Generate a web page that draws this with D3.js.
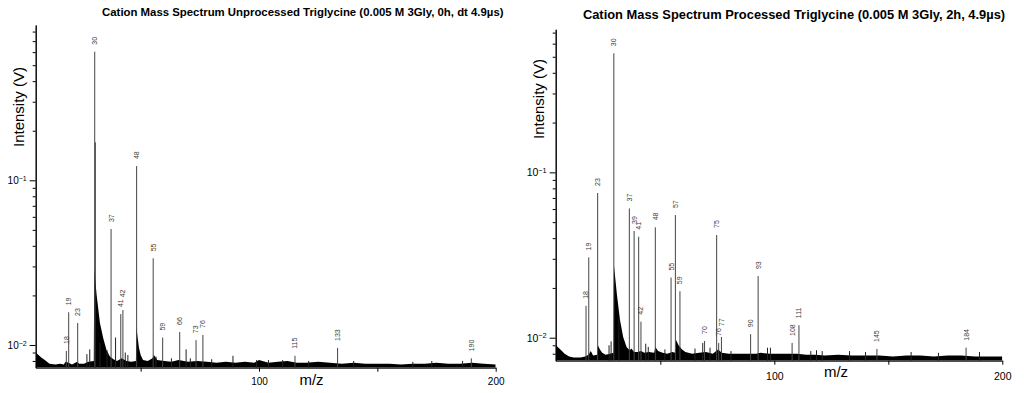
<!DOCTYPE html>
<html>
<head>
<meta charset="utf-8">
<script src="https://cdn.jsdelivr.net/npm/d3@7"></script>
<style>
  body { margin: 0; background: #fff; }
  svg { display: block; font-family: "Liberation Sans", Arial, Helvetica, sans-serif; }
</style>
</head>
<body>
<svg id="chart" width="1024" height="393"></svg>
<script>
// ---- unprocessed (0h) ----
// labelled peaks: position on m/z axis, intensity (V), label text
const unprocPeakMz = [18.6, 19.6, 23.4, 30.6, 37.5, 41.6, 42.5, 48.3, 55.3, 59.3, 66.5, 73.4, 76.3, 115.2, 133.2, 189.7];
const unprocPeakI = [0.0092, 0.0158, 0.0136, 0.604, 0.0506, 0.0154, 0.0163, 0.122, 0.0336, 0.0111, 0.0120, 0.0107, 0.0115, 0.0086, 0.0096, 0.0083];
const unprocLabels = ["18", "19", "23", "30", "37", "41", "42", "48", "55", "59", "66", "73", "76", "115", "133", "190"];
// small unlabelled spikes [m/z, V]
const unprocSpikes = [[27.3, 0.0088], [28.5, 0.0094], [30.8, 0.170], [32.8, 0.0103], [35.8, 0.0093], [39.4, 0.0111],
  [43.5, 0.0090], [44.6, 0.0087], [56.5, 0.0085], [63, 0.0083], [69.2, 0.0094], [71, 0.0083], [80, 0.0082],
  [89, 0.0086], [99, 0.0081], [104, 0.0081], [110, 0.0081], [121, 0.0080], [140, 0.0080], [165, 0.0079], [173, 0.0080], [186, 0.0080]];
// noise floor / peak shoulders (top of the dense black band)
const unprocFloor = [[5.7, 0.0090], [6.5, 0.0088], [8, 0.0084], [9.5, 0.0081], [11.5, 0.0077], [14, 0.0076], [16, 0.0077],
  [17.5, 0.0076], [18.3, 0.0079], [19.5, 0.0078], [21, 0.0076], [23.2, 0.0079], [24, 0.0077], [26, 0.0077], [28, 0.0079],
  [30.2, 0.0080], [30.4, 0.0292], [31.4, 0.0201], [32.8, 0.0136], [34.2, 0.0110], [35.6, 0.0093], [37, 0.0085],
  [38.5, 0.0082], [40, 0.0080], [42, 0.0083], [44, 0.0080], [46, 0.0079], [48.0, 0.0080], [48.2, 0.0130], [48.7, 0.0112],
  [49.3, 0.0096], [50, 0.0087], [51, 0.0081], [53, 0.0080], [55, 0.0083], [55.6, 0.0087], [57, 0.0081], [60, 0.0080],
  [63, 0.0079], [66, 0.0081], [70, 0.0079], [74, 0.0080], [78, 0.0079], [82, 0.0078], [86, 0.0079], [90, 0.0078],
  [94, 0.0079], [98, 0.0078], [100, 0.0081], [104, 0.0078], [108, 0.0079], [112, 0.0080], [116, 0.0078], [120, 0.0078],
  [125, 0.0079], [130, 0.0078], [135, 0.0077], [140, 0.0078], [145, 0.0077], [150, 0.0077], [155, 0.0077], [160, 0.0076],
  [165, 0.0077], [170, 0.0077], [175, 0.0078], [180, 0.0077], [185, 0.0077], [190, 0.0078], [195, 0.0077], [200, 0.0076]];

// ---- processed (2h) ----
const procPeakMz = [17.4, 18.6, 22.5, 29.6, 36.4, 38.5, 40.5, 41.5, 47.8, 54.7, 56.6, 58.6, 69.4, 74.7, 75.6, 76.8, 89.6, 92.9, 107.8, 110.8, 145.0, 184.1];
const procPeakI = [0.0156, 0.0306, 0.075, 0.525, 0.0605, 0.0442, 0.0408, 0.0125, 0.0465, 0.0231, 0.0552, 0.0191, 0.00955, 0.0418, 0.0093, 0.0101, 0.0105, 0.0236, 0.0093, 0.0119, 0.00855, 0.0087];
const procLabels = ["18", "19", "23", "30", "37", "39", "41", "42", "48", "55", "57", "59", "70", "75", "76", "77", "90", "93", "108", "111", "145", "184"];
const procSpikes = [[27.5, 0.0090], [28.4, 0.0095], [31.8, 0.0131], [43.6, 0.0092], [44.7, 0.0088], [52, 0.0085],
  [65.2, 0.0086], [68.6, 0.0093], [71.8, 0.0087], [81, 0.0083], [97, 0.0087], [98.3, 0.0087], [116, 0.0083],
  [118.5, 0.0084], [121, 0.0083], [133, 0.0083], [140, 0.0082], [160, 0.0082], [172, 0.0081], [190, 0.0082]];
const procFloor = [[4.1, 0.0090], [5, 0.0088], [6.5, 0.0084], [8, 0.0080], [10, 0.0077], [12, 0.0076], [15, 0.0076],
  [17, 0.0077], [18.5, 0.0079], [19.5, 0.0083], [20.5, 0.0078], [22.3, 0.0079], [22.6, 0.0090], [23.5, 0.0085],
  [24.5, 0.0081], [26, 0.0079], [28, 0.0080], [29.5, 0.0081], [29.7, 0.0271], [30.9, 0.0185], [32.3, 0.0128],
  [33.7, 0.0101], [35.2, 0.0088], [36.5, 0.0084], [37.3, 0.0086], [38.5, 0.0082], [40, 0.0082], [41.5, 0.0083],
  [43, 0.0081], [45, 0.0082], [47.3, 0.0081], [47.8, 0.0088], [49, 0.0083], [51, 0.0081], [53, 0.0080], [55.2, 0.0082],
  [56.6, 0.0081], [56.9, 0.0097], [58, 0.0090], [59.5, 0.0085], [61, 0.0082], [64, 0.0080], [67, 0.0081], [70, 0.0082],
  [73, 0.0080], [75.3, 0.0085], [77, 0.0081], [80, 0.0080], [84, 0.0080], [88, 0.0080], [92, 0.0080], [94, 0.0081],
  [98, 0.0080], [102, 0.0080], [106, 0.0080], [110, 0.0080], [114, 0.0079], [118, 0.0079], [122, 0.0078], [128, 0.0079],
  [134, 0.0078], [140, 0.0078], [146, 0.0078], [152, 0.0077], [158, 0.0078], [164, 0.0078], [170, 0.0077], [176, 0.0078],
  [182, 0.0078], [188, 0.0077], [194, 0.0077], [200, 0.0077]];

const xTicks = [50, 100, 150, 200];
const yMajor = [0.01, 0.1];
const yMinor = [0.008, 0.009, 0.02, 0.03, 0.04, 0.05, 0.06, 0.07, 0.08, 0.09, 0.2, 0.3, 0.4, 0.5, 0.6, 0.7, 0.8];

const svg = d3.select("#chart");
const LABEL_FONT = 7;
const LABEL_GAP = 7;

function drawPanel(p) {
  const x = d3.scaleLinear().domain([p.xMin, 200]).range([p.left, p.right]);
  const y = d3.scaleLog().domain([p.yMin, p.yMax]).range([p.bottom, p.top]);
  const g = svg.append("g");

  g.append("clipPath").attr("id", p.id + "-clip")
    .append("rect").attr("x", p.left).attr("y", p.top - 40).attr("width", p.right - p.left).attr("height", p.bottom - p.top + 40);
  const plot = g.append("g").attr("clip-path", `url(#${p.id}-clip)`);

  plot.append("path")
    .datum(p.floor)
    .attr("fill", "#000")
    .attr("d", d3.area().x(d => x(d[0])).y0(p.bottom).y1(d => y(d[1])));

  plot.append("g").selectAll("line").data(p.spikes).join("line")
    .attr("x1", d => x(d[0])).attr("x2", d => x(d[0]))
    .attr("y1", p.bottom).attr("y2", d => y(d[1]))
    .attr("stroke", "#222").attr("stroke-width", 1);

  const peaks = p.mz.map((m, i) => ({ mz: m, v: p.inten[i], label: p.labels[i] }));
  plot.append("g").selectAll("line").data(peaks).join("line")
    .attr("x1", d => x(d.mz)).attr("x2", d => x(d.mz))
    .attr("y1", p.bottom).attr("y2", d => y(d.v))
    .attr("stroke", "#444").attr("stroke-width", 1);

  // label placement: just above the peak; a taller neighbour closer than 4px stacks above
  peaks.forEach(d => {
    d.px = x(d.mz);
    d.base = y(d.v) - LABEL_GAP;
    d.len = d.label.length * 0.556 * LABEL_FONT;
  });
  peaks.forEach(d => {
    peaks.forEach(o => {
      if (o !== d && Math.abs(o.px - d.px) < 4 && o.v < d.v) {
        d.base = Math.min(d.base, o.base - o.len - 2);
      }
    });
  });

  g.append("g").selectAll("text").data(peaks).join("text")
    .attr("transform", d => `translate(${d.px},${d.base}) rotate(-90)`)
    .attr("dy", "0.35em")
    .attr("font-size", LABEL_FONT)
    .attr("fill", "#3a3a3a")
    .text(d => d.label);

  // x axis
  const xa = g.append("g").attr("transform", `translate(0,${p.bottom})`)
    .call(d3.axisBottom(x).tickValues(xTicks).tickSize(4).tickSizeOuter(0).tickPadding(p.xPad)
      .tickFormat(d => d % 100 === 0 ? d : ""));
  xa.selectAll("text").attr("font-size", p.tickFont).attr("fill", "#000").attr("font-family", null);

  // y axis: minor ticks, then labelled decades
  g.append("g").attr("transform", `translate(${p.left},0)`)
    .call(d3.axisLeft(y).tickValues(yMinor.filter(v => v >= p.yMin && v <= p.yMax)).tickSize(3).tickSizeOuter(0).tickFormat(""));
  const ya = g.append("g").attr("transform", `translate(${p.left},0)`)
    .call(d3.axisLeft(y).tickValues(yMajor).tickSize(6).tickSizeOuter(0).tickPadding(3).tickFormat(""));
  ya.selectAll(".tick").append("text")
    .attr("x", -9).attr("dy", "0.32em").attr("text-anchor", "end").attr("fill", "#000")
    .attr("font-size", p.tickFont).attr("font-family", null)
    .each(function (d) {
      const t = d3.select(this);
      t.append("tspan").text("10");
      t.append("tspan").attr("dy", "-0.45em").attr("font-size", p.tickFont * 0.7).text("\u2212" + Math.round(-Math.log10(d)));
    });
  g.selectAll(".domain").attr("stroke", "#000");
  g.selectAll(".tick line").attr("stroke", "#000");

  g.append("text")
    .attr("transform", `translate(${p.yLabelX},${p.yLabelY}) rotate(-90)`)
    .attr("text-anchor", "middle").attr("dy", "0.35em")
    .attr("font-size", p.labelFont)
    .text("Intensity (V)");

  g.append("text")
    .attr("x", p.xLabelX).attr("y", p.xLabelY)
    .attr("text-anchor", "middle")
    .attr("font-size", p.labelFont)
    .text("m/z");

  const title = g.append("text")
    .attr("x", p.titleX).attr("y", p.titleY)
    .attr("text-anchor", "middle")
    .attr("font-weight", "bold")
    .attr("font-size", 11)
    .text(p.title);
  const w = title.node().getComputedTextLength();
  title.attr("font-size", 11 * p.titleW / w);
}

drawPanel({
  id: "unproc", xMin: 5.66, left: 35.7, right: 495.7, yMin: 0.00728, yMax: 0.877, bottom: 367.7, top: 25,
  mz: unprocPeakMz, inten: unprocPeakI, labels: unprocLabels, spikes: unprocSpikes, floor: unprocFloor,
  tickFont: 10, xPad: 6, labelFont: 15,
  yLabelX: 18.3, yLabelY: 107, xLabelX: 311.5, xLabelY: 385,
  title: "Cation Mass Spectrum Unprocessed Triglycine (0.005 M 3Gly, 0h, dt 4.9\u00b5s)",
  titleX: 302.8, titleY: 15.5, titleW: 402
});

drawPanel({
  id: "proc", xMin: 4.1, left: 555.7, right: 1002.3, yMin: 0.00726, yMax: 0.733, bottom: 360.7, top: 29.3,
  mz: procPeakMz, inten: procPeakI, labels: procLabels, spikes: procSpikes, floor: procFloor,
  tickFont: 10.5, xPad: 8, labelFont: 15,
  yLabelX: 538.7, yLabelY: 99, xLabelX: 836, xLabelY: 377,
  title: "Cation Mass Spectrum Processed Triglycine (0.005 M 3Gly, 2h, 4.9\u00b5s)",
  titleX: 794, titleY: 18.5, titleW: 423
});
</script>
</body>
</html>
